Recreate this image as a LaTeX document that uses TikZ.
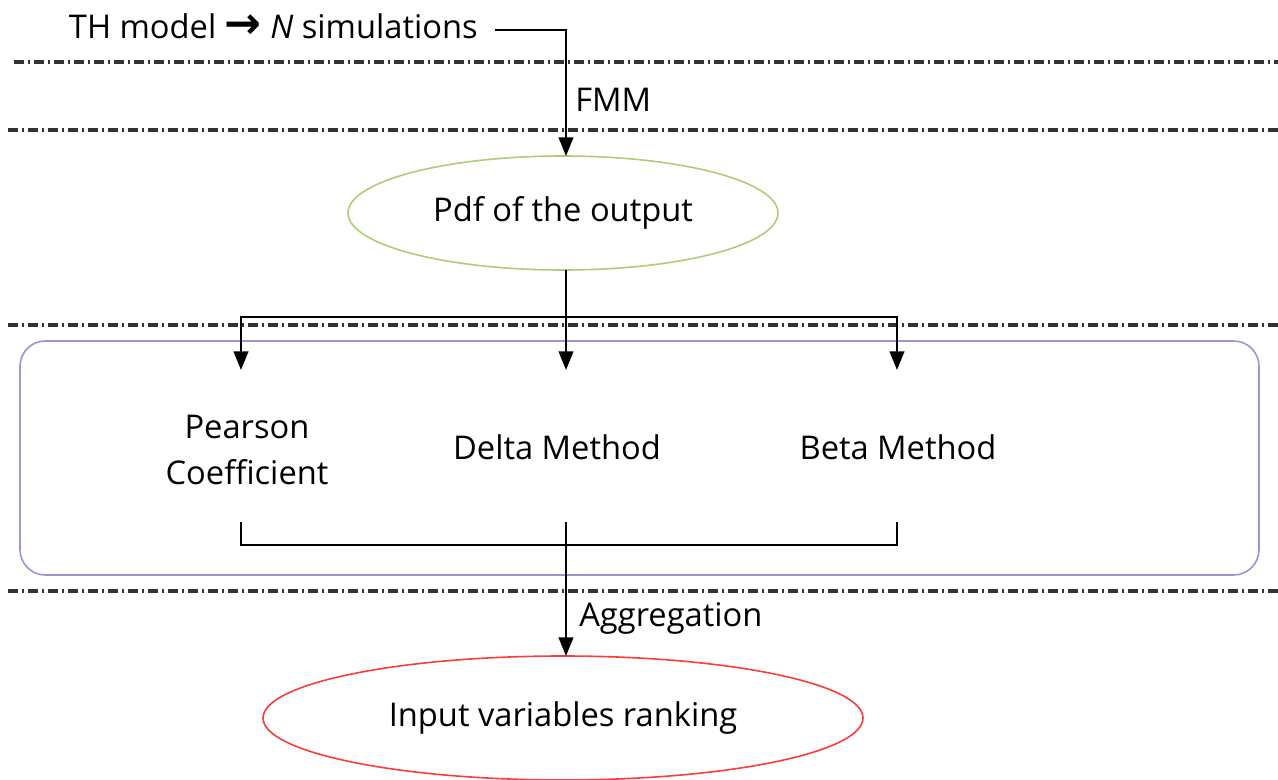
\documentclass[tikz,border=0pt]{standalone}
\usepackage{fontspec}
\usepackage{graphicx}
\setmainfont{Open Sans}
\newfontfamily\arrowfont{DejaVu Sans}
\usetikzlibrary{arrows.meta,shapes.geometric}
\definecolor{ellgreen}{RGB}{175,205,120}
\definecolor{boxpurple}{RGB}{165,145,205}
\definecolor{ellred}{RGB}{250,60,60}
\tikzset{
  sep/.style={line width=2.4pt,dash pattern=on 7.5pt off 3pt on 1.5pt off 3pt,black!80},
  conn/.style={line width=1.5pt},
  arr/.style={conn,-{Triangle[width=11pt,length=14pt]}},
  lbl/.style={font=\fontsize{24.5}{34.5}\selectfont,inner sep=0pt},
  ell/.style={ellipse,draw,line width=1.2pt,minimum width=#1,inner sep=0pt},
}
\begin{document}
\begin{tikzpicture}[x=0.75pt,y=-0.75pt]
\useasboundingbox (0,0) rectangle (1278,780);
% separators
\draw[sep] (14,62) -- (1278,62);
\draw[sep] (8,130) -- (1278,130);
\draw[sep] (8,325) -- (1278,325);
\draw[sep] (8,591) -- (1278,591);
% box
\draw[boxpurple,line width=1.2pt,rounded corners=19pt] (20,341) rectangle (1259,575);
% nodes
\node[lbl,anchor=east] (th) at (478,26) {TH model {\arrowfont\bfseries\scalebox{1.35}{→}} \textit{N} simulations};
\node[ell=430*0.75pt,minimum height=114*0.75pt,draw=ellgreen] (pdf) at (563,213) {};
\node[lbl] at (pdf.center) {Pdf of the output};
\node[ell=600*0.75pt,minimum height=124*0.75pt,draw=ellred] (rank) at (563,718) {};
\node[lbl] at (rank.center) {Input variables ranking};
\node[lbl,align=center] (pearson) at (247,450) {Pearson\\Coefficient};
\node[lbl] (delta) at (557,447) {Delta Method};
\node[lbl] (beta) at (898,447) {Beta Method};
\node[lbl,anchor=west] (fmm) at (575,100) {FMM};
\node[lbl,anchor=west] (agg) at (579,618) {Aggregation};
% connectors
\coordinate (thend) at (495,30);
\coordinate (pdftop) at (566,156);
\draw[arr] (thend) -- (thend -| pdftop) -- (pdftop);
\coordinate (pdfbot) at (566,270);
\coordinate (split) at (566,317);
\coordinate (pa) at (241,370);
\coordinate (da) at (566,370);
\coordinate (ba) at (897,370);
\draw[conn] (pdfbot) -- (split);
\draw[arr] (split) -- (da);
\draw[arr] (split) -| (pa);
\draw[arr] (split) -| (ba);
\coordinate (pb) at (241,522);
\coordinate (db) at (566,522);
\coordinate (bb) at (897,522);
\draw[conn] (pb) |- (897,545) -- (bb);
\draw[arr] (db) -- (566,656);
\end{tikzpicture}
\end{document}
